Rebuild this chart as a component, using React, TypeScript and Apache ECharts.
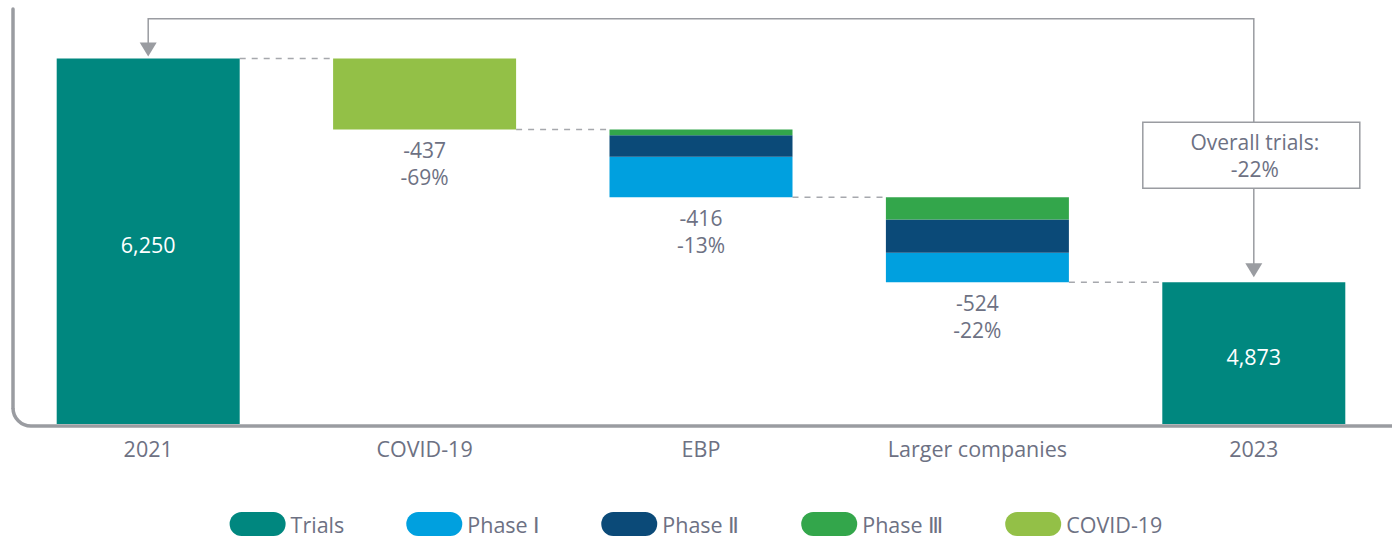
import React, { useEffect, useRef } from 'react';
import * as echarts from 'echarts';

const categories = ['2021', 'COVID-19', 'EBP', 'Larger companies', '2023'];
const baseValues: (number | string)[] = [0, 5813, 5397, 4873, 0];
const trialsValues: (number | string)[] = [6250, '-', '-', '-', 4873];
const phase1Values: (number | string)[] = ['-', '-', 249, 181, '-'];
const phase2Values: (number | string)[] = ['-', '-', 132, 205, '-'];
const phase3Values: (number | string)[] = ['-', '-', 35, 138, '-'];
const covidValues: (number | string)[] = ['-', 437, '-', '-', '-'];
const changeLabels = ['', '-437', '-416', '-524', ''];
const changePctLabels = ['', '-69%', '-13%', '-22%', ''];
const connectorLevels = [6250, 5813, 5397, 4873];
const overallText = ['Overall trials:', '-22%'];
// [fromIndex, fromValue, toIndex, toValue, topValue, boxCenterValue]
const overallArrow = [[4, 4873, 0, 6250, 6495, 5655]];
const legendNames = ['Trials', 'Phase Ⅰ', 'Phase Ⅱ', 'Phase Ⅲ', 'COVID-19'];

const Y_MIN = 4000;
const Y_MAX = 6500;

const C_TRIALS = '#00877F';
const C_P1 = '#00A0DF';
const C_P2 = '#0B4A78';
const C_P3 = '#33A64B';
const C_COVID = '#93C047';
const C_TEXT = '#6D7183';
const C_AXIS = '#9A9CA1';
const C_DASH = '#A6A8AD';
const FONT = "'Open Sans', 'Noto Sans', sans-serif";
const FS = 21.5;
const BAR_W = 183;

export default function App() {
  const ref = useRef<HTMLDivElement>(null);
  useEffect(() => {
    if (!ref.current) return;
    const chart = echarts.init(ref.current, null, { renderer: 'svg' });
    const changeLabel = {
      show: true,
      position: 'bottom',
      distance: 7,
      color: C_TEXT,
      fontSize: 21,
      fontFamily: FONT,
      formatter: (p: any) =>
        `{a|${changeLabels[p.dataIndex]}}\n{a|${changePctLabels[p.dataIndex]}}`,
      rich: {
        a: { fontSize: 21, lineHeight: 27, color: C_TEXT, fontFamily: FONT },
      },
    };
    const pill = 'path://M12,0L44,0A12,12,0,0,1,44,24L12,24A12,12,0,0,1,12,0Z';
    chart.setOption({
      animation: false,
      textStyle: { fontFamily: FONT },
      grid: { left: 10, right: 0, top: 18, bottom: 113, containLabel: false },
      legend: {
        data: legendNames.map((n) => ({ name: n, icon: pill })),
        left: 'center',
        top: 507,
        itemWidth: 56,
        itemHeight: 24,
        itemGap: 62,
        selectedMode: false,
        textStyle: { fontSize: FS, color: C_TEXT, fontFamily: FONT },
      },
      xAxis: {
        type: 'category',
        data: categories,
        axisLine: { show: false },
        axisTick: { show: false },
        axisLabel: { fontSize: FS, color: C_TEXT, margin: 13, fontFamily: FONT },
      },
      yAxis: {
        type: 'value',
        min: Y_MIN,
        max: Y_MAX,
        show: false,
        splitLine: { show: false },
      },
      graphic: [
        {
          type: 'group',
          silent: true,
          children: [
            { type: 'line', shape: { x1: 13, y1: 9, x2: 13, y2: 408 }, style: { stroke: C_AXIS, lineWidth: 3.5, lineCap: 'round' } },
            { type: 'arc', shape: { cx: 31, cy: 408, r: 18, startAngle: Math.PI / 2, endAngle: Math.PI, clockwise: true }, style: { stroke: C_AXIS, lineWidth: 3.5, fill: null } },
            { type: 'line', shape: { x1: 31, y1: 426, x2: 1392, y2: 426 }, style: { stroke: C_AXIS, lineWidth: 3.5 } },
          ],
          z: 100,
        },
      ],
      series: [
        {
          name: '_base',
          type: 'bar',
          stack: 'wf',
          barWidth: BAR_W,
          silent: true,
          itemStyle: { color: 'transparent' },
          data: baseValues,
        },
        {
          name: 'Trials',
          type: 'bar',
          stack: 'wf',
          barWidth: BAR_W,
          itemStyle: { color: C_TRIALS },
          label: {
            show: true,
            position: 'inside',
            offset: [0, 3],
            color: '#ffffff',
            fontSize: FS,
            fontFamily: FONT,
            formatter: (p: any) => Number(p.value).toLocaleString('en-US'),
          },
          data: trialsValues,
        },
        {
          name: 'Phase Ⅰ',
          type: 'bar',
          stack: 'wf',
          barWidth: BAR_W,
          itemStyle: { color: C_P1 },
          label: changeLabel,
          data: phase1Values,
        },
        {
          name: 'Phase Ⅱ',
          type: 'bar',
          stack: 'wf',
          barWidth: BAR_W,
          itemStyle: { color: C_P2 },
          data: phase2Values,
        },
        {
          name: 'Phase Ⅲ',
          type: 'bar',
          stack: 'wf',
          barWidth: BAR_W,
          itemStyle: { color: C_P3 },
          data: phase3Values,
        },
        {
          name: 'COVID-19',
          type: 'bar',
          stack: 'wf',
          barWidth: BAR_W,
          itemStyle: { color: C_COVID },
          label: changeLabel,
          data: covidValues,
        },
        {
          name: '_connectors',
          type: 'custom',
          silent: true,
          clip: false,
          z: 1,
          renderItem: (params: any, api: any) => {
            const i = api.value(0);
            const v = api.value(1);
            const p1 = api.coord([i, v]);
            const p2 = api.coord([i + 1, v]);
            return {
              type: 'line',
              shape: { x1: p1[0] + BAR_W / 2, y1: p1[1], x2: p2[0] - BAR_W / 2, y2: p2[1] },
              style: { stroke: C_DASH, lineWidth: 1.5, lineDash: [6, 6] },
            };
          },
          data: connectorLevels.map((v, i) => [i, v]),
        },
        {
          name: '_overall',
          type: 'custom',
          silent: true,
          clip: false,
          z: 5,
          renderItem: (params: any, api: any) => {
            const a = api.coord([api.value(0), api.value(1)]);
            const b = api.coord([api.value(2), api.value(3)]);
            const topY = api.coord([api.value(0), api.value(4)])[1];
            const boxY = api.coord([api.value(0), api.value(5)])[1];
            const tipA = a[1] - 5;
            const tipB = b[1] - 2;
            const stroke = C_AXIS;
            return {
              type: 'group',
              children: [
                {
                  type: 'polyline',
                  shape: { points: [[a[0], tipA - 12], [a[0], topY], [b[0], topY], [b[0], tipB - 12]] },
                  style: { stroke, lineWidth: 1.5, fill: null },
                },
                {
                  type: 'polygon',
                  shape: { points: [[a[0] - 8.5, tipA - 14], [a[0] + 8.5, tipA - 14], [a[0], tipA]] },
                  style: { fill: stroke },
                },
                {
                  type: 'polygon',
                  shape: { points: [[b[0] - 8.5, tipB - 14], [b[0] + 8.5, tipB - 14], [b[0], tipB]] },
                  style: { fill: stroke },
                },
                {
                  type: 'rect',
                  shape: { x: a[0] - 111, y: boxY - 33, width: 217, height: 66 },
                  style: { fill: '#ffffff', stroke, lineWidth: 1.5 },
                },
                {
                  type: 'text',
                  x: a[0] + 1,
                  y: boxY - 13.5,
                  style: {
                    text: overallText[0],
                    fill: C_TEXT,
                    fontSize: 21,
                    fontFamily: FONT,
                    align: 'center',
                    verticalAlign: 'middle',
                  },
                },
                {
                  type: 'text',
                  x: a[0] + 1,
                  y: boxY + 13.5,
                  style: {
                    text: overallText[1],
                    fill: C_TEXT,
                    fontSize: 21,
                    fontFamily: FONT,
                    align: 'center',
                    verticalAlign: 'middle',
                  },
                },
              ],
            };
          },
          data: overallArrow,
        },
      ],
    });
    return () => chart.dispose();
  }, []);
  return (
    <div
      ref={ref}
      style={{ position: 'fixed', left: 0, top: 0, width: 1392, height: 537, background: '#ffffff' }}
    />
  );
}
